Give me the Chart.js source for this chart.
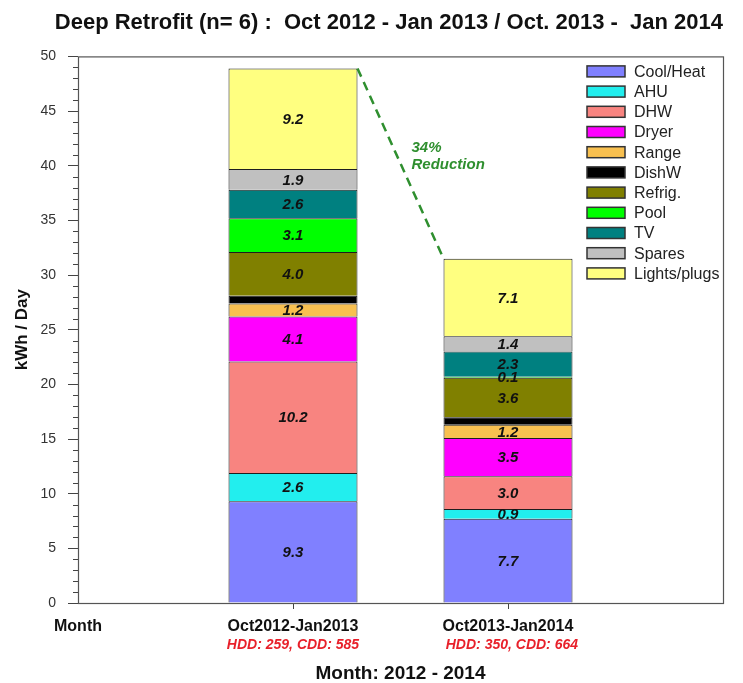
<!DOCTYPE html>
<html><head><meta charset="utf-8">
<script src="https://cdn.jsdelivr.net/npm/chart.js@4.4.0/dist/chart.umd.min.js"></script>
<style>html,body{margin:0;padding:0;background:#fff}#wrap{width:743px;height:683px;position:relative}</style>
</head><body><div id="wrap"><canvas id="c" width="743" height="683"></canvas></div>
<script>
// ---- data ----
const categories = ['Month', 'Oct2012-Jan2013', 'Oct2013-Jan2014', ''];
const periodNotes = ['', 'HDD: 259, CDD: 585', '  HDD: 350, CDD: 664', ''];
const seriesNames = ['Cool/Heat', 'AHU', 'DHW', 'Dryer', 'Range', 'DishW', 'Refrig.', 'Pool', 'TV', 'Spares', 'Lights/plugs'];
const coolHeat    = [9.3, 7.7];
const ahu         = [2.6, 0.9];
const dhw         = [10.2, 3.0];
const dryer       = [4.1, 3.5];
const rangeUse    = [1.2, 1.2];
const dishW       = [0.7, 0.7];
const refrig      = [4.0, 3.6];
const pool        = [3.1, 0.1];
const tv          = [2.6, 2.3];
const spares      = [1.9, 1.4];
const lightsPlugs = [9.2, 7.1];
const reductionText = ['34%', 'Reduction'];
const chartTitle = 'Deep Retrofit (n= 6) :  Oct 2012 - Jan 2013 / Oct. 2013 -  Jan 2014';
const xTitle = 'Month: 2012 - 2014';
const yTitle = 'kWh / Day';

// ---- styles ----
const seriesColors = ['#8080ff', '#22eeee', '#f88480', '#ff00ff', '#f8c050', '#000000', '#808000', '#00ff00', '#008080', '#c0c0c0', '#ffff80'];
const FONT = '"Liberation Sans", Arial, Helvetica, sans-serif';
Chart.defaults.font.family = FONT;

const seriesValues = [coolHeat, ahu, dhw, dryer, rangeUse, dishW, refrig, pool, tv, spares, lightsPlugs];
const datasets = seriesNames.map((name, i) => ({
  label: name,
  data: [null, seriesValues[i][0], seriesValues[i][1], null],
  backgroundColor: seriesColors[i],
  borderColor: '#1e1e1e',
  borderWidth: 1,
  categoryPercentage: 0.6,
  barPercentage: 1.0,
  stack: 's'
}));

const decorPlugin = {
  id: 'decor',
  afterDraw(chart) {
    const ctx = chart.ctx;
    const a = chart.chartArea;
    const ys = chart.scales.y, xs = chart.scales.x;
    ctx.save();
    // plot border
    ctx.strokeStyle = '#555'; ctx.lineWidth = 1.2;
    ctx.strokeRect(a.left + 0.5, a.top + 0.5, a.right - a.left, a.bottom - a.top);
    // minor y ticks
    ctx.strokeStyle = '#444'; ctx.lineWidth = 1;
    for (let v = ys.min; v <= ys.max; v++) {
      if (v % 5 === 0) continue;
      const py = Math.round(ys.getPixelForValue(v)) + 0.5;
      ctx.beginPath(); ctx.moveTo(a.left - 5, py); ctx.lineTo(a.left, py); ctx.stroke();
    }
    // value labels
    ctx.font = 'italic bold 15px ' + FONT;
    ctx.fillStyle = '#111'; ctx.textAlign = 'center'; ctx.textBaseline = 'middle';
    chart.data.datasets.forEach((ds, i) => {
      if (ds.label === 'DishW') return;
      const meta = chart.getDatasetMeta(i);
      meta.data.forEach((el, j) => {
        const v = ds.data[j];
        if (v == null) return;
        ctx.fillText(v.toFixed(1), el.x, (el.y + el.base) / 2 + 1);
      });
    });
    // reduction dashed line
    const top = chart.getDatasetMeta(chart.data.datasets.length - 1).data;
    const p1 = { x: top[1].x + top[1].width / 2, y: top[1].y };
    const p2 = { x: top[2].x - top[2].width / 2, y: top[2].y };
    ctx.strokeStyle = '#2f8f2f'; ctx.lineWidth = 2.5; ctx.setLineDash([9, 6]);
    ctx.beginPath(); ctx.moveTo(p1.x, p1.y); ctx.lineTo(p2.x, p2.y); ctx.stroke();
    ctx.setLineDash([]);
    const mx = (p1.x + p2.x) / 2, my = (p1.y + p2.y) / 2;
    ctx.fillStyle = '#2f8f2f'; ctx.textAlign = 'left';
    ctx.font = 'italic bold 15px ' + FONT;
    ctx.fillText(reductionText[0], mx + 11, my - 16);
    ctx.fillText(reductionText[1], mx + 11, my + 1);
    // period notes (red)
    ctx.fillStyle = '#e8202a'; ctx.textAlign = 'center';
    ctx.font = 'italic bold 14px ' + FONT;
    periodNotes.forEach((t, i) => {
      if (!t) return;
      ctx.fillText(t, xs.getPixelForTick(i), xs.top + 42);
    });
    // legend
    const lx = a.right - 136, ly = a.top + 15;
    ctx.font = '16px ' + FONT; ctx.textAlign = 'left'; ctx.textBaseline = 'middle';
    chart.data.datasets.forEach((ds, i) => {
      const cy = ly + i * 20.2;
      ctx.fillStyle = ds.backgroundColor;
      ctx.fillRect(lx, cy - 5.5, 38, 11);
      ctx.lineWidth = 1.5; ctx.strokeStyle = '#333';
      ctx.strokeRect(lx, cy - 5.5, 38, 11);
      ctx.fillStyle = '#222';
      ctx.fillText(ds.label, lx + 47, cy + 1);
    });
    ctx.restore();
  }
};

new Chart(document.getElementById('c'), {
  type: 'bar',
  data: { labels: categories, datasets },
  plugins: [decorPlugin],
  options: {
    responsive: false,
    animation: false,
    devicePixelRatio: 1,
    layout: { padding: { left: 0, right: 20, top: 0, bottom: 0 } },
    plugins: {
      legend: { display: false },
      tooltip: { enabled: false },
      title: {
        display: true, text: chartTitle, align: 'end', color: '#111',
        font: { size: 22, weight: 'bold' },
        padding: { top: 10, bottom: 20 }
      }
    },
    scales: {
      x: {
        type: 'category', offset: false, stacked: true,
        grid: {
          offset: false,
          drawOnChartArea: false, tickLength: 6, tickWidth: 1,
          tickColor: (c) => (c.index === 1 || c.index === 2) ? '#444' : 'rgba(0,0,0,0)'
        },
        border: { display: false },
        ticks: { autoSkip: false, maxRotation: 0, padding: 8, color: '#111', font: { size: 16, weight: 'bold' } },
        title: { display: true, text: xTitle, color: '#111', font: { size: 19, weight: 'bold', lineHeight: 1 }, padding: { top: 0, bottom: 0 } },
        afterFit: (s) => { s.height = 80; }
      },
      y: {
        min: 0, max: 50, stacked: true,
        grid: { drawOnChartArea: false, tickLength: 10, tickColor: '#444' },
        border: { display: false },
        ticks: { stepSize: 5, padding: 12, color: '#333', font: { size: 14 } },
        title: { display: true, text: yTitle, color: '#111', font: { size: 17, weight: 'bold' }, padding: { top: 12, bottom: 0 } },
        afterFit: (s) => { s.width = 78; }
      }
    }
  }
});
</script>
</body></html>
